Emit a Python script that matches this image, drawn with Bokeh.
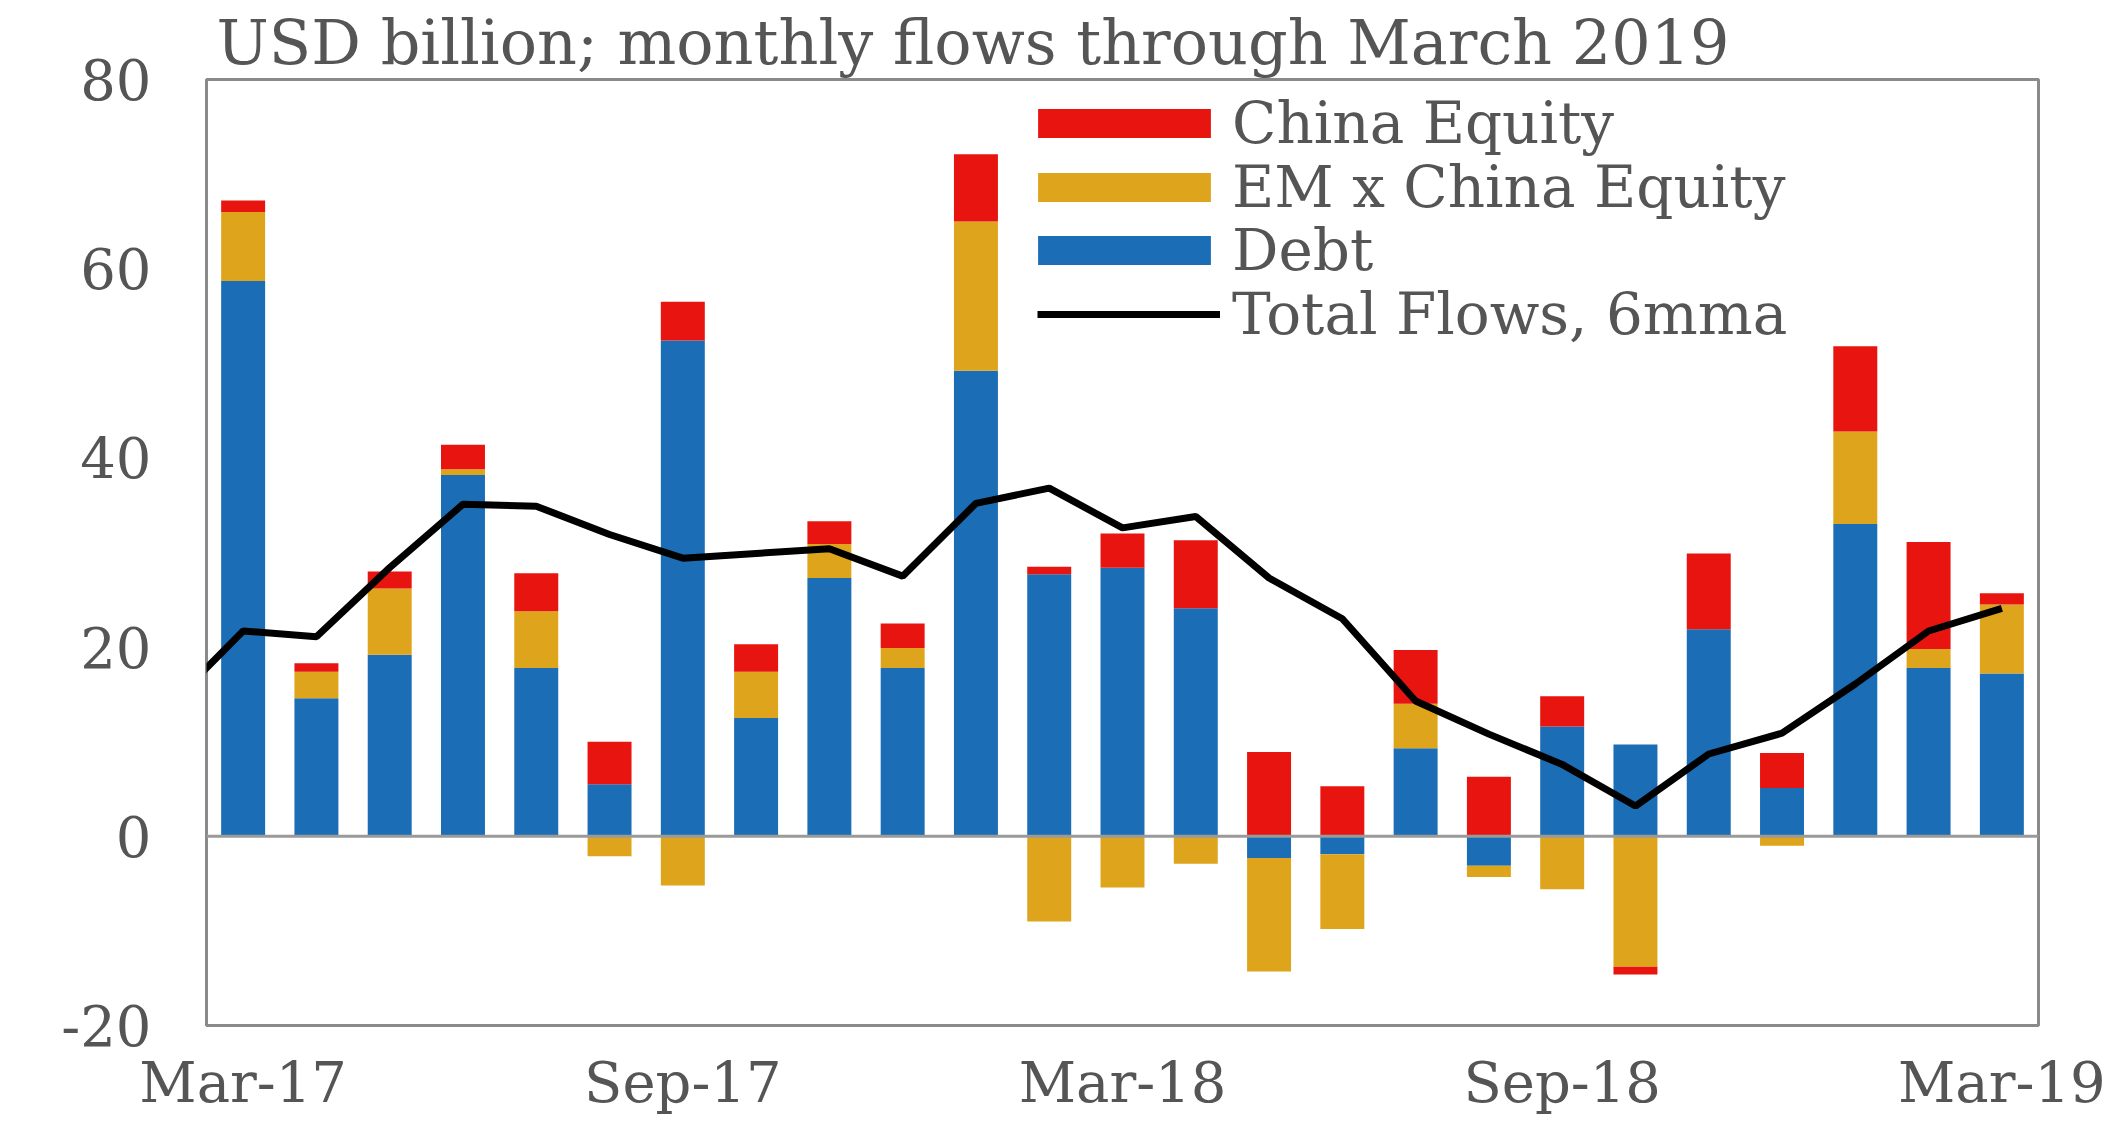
from bokeh.plotting import figure
from bokeh.models import Range1d, FixedTicker, Span, Legend, LegendItem, ColumnDataSource
from bokeh.embed import file_html
from bokeh.resources import INLINE

# ---- data (USD billion) ----
months = ["Mar-17", "Apr-17", "May-17", "Jun-17", "Jul-17", "Aug-17", "Sep-17", "Oct-17",
          "Nov-17", "Dec-17", "Jan-18", "Feb-18", "Mar-18", "Apr-18", "May-18", "Jun-18",
          "Jul-18", "Aug-18", "Sep-18", "Oct-18", "Nov-18", "Dec-18", "Jan-19", "Feb-19", "Mar-19"]
debt = [58.7, 14.6, 19.2, 38.2, 17.8, 5.5, 52.4, 12.5, 27.3, 17.8, 49.2, 27.7, 28.4, 24.1,
        -2.3, -1.9, 9.3, -3.1, 11.6, 9.7, 21.9, 5.1, 33.0, 17.8, 17.2]
em_x_china = [7.3, 2.8, 7.0, 0.6, 6.0, -2.1, -5.2, 4.9, 3.6, 2.1, 15.8, -9.0, -5.4, -2.9,
              -12.0, -7.9, 4.7, -1.2, -5.6, -13.8, 0.0, -1.0, 9.8, 2.0, 7.3]
china_equity = [1.2, 0.9, 1.8, 2.6, 4.0, 4.5, 4.1, 2.9, 2.4, 2.6, 7.1, 0.8, 3.6, 7.2,
                8.9, 5.3, 5.7, 6.3, 3.2, -0.8, 8.0, 3.7, 9.0, 11.3, 1.2]
# 6-month moving average of total flows; first value is Feb-17 (left of the frame)
ma_months = ["Feb-17"] + months
total_6mma = [13.9, 21.7, 21.1, 28.4, 35.1, 34.9, 31.9, 29.4, 29.9, 30.4, 27.5, 35.2, 36.8,
              32.6, 33.8, 27.3, 23.0, 14.3, 10.8, 7.6, 3.2, 8.7, 10.9, 16.1, 21.7, 24.1]
tick_labels = ["Mar-17", "Sep-17", "Mar-18", "Sep-18", "Mar-19"]
y_ticks = [-20, 0, 20, 40, 60, 80]
title_text = "USD billion; monthly flows through March 2019"

# ---- styles ----
FONT = "DejaVu Serif"
TXT = "#555555"
C_CHINA = "#E8140F"
C_EM = "#DEA41C"
C_DEBT = "#1B6DB5"

x = list(range(len(months)))
x_ma = [i - 1 for i in range(len(ma_months))]

# Excel-style stacking: positives stack upward, negatives stack downward
series = [("Debt", debt, C_DEBT), ("EM x China Equity", em_x_china, C_EM), ("China Equity", china_equity, C_CHINA)]
pos = [0.0] * len(months)
neg = [0.0] * len(months)
stack = {}
for name, vals, col in series:
    bot, top = [], []
    for i, v in enumerate(vals):
        if v >= 0:
            bot.append(pos[i]); top.append(pos[i] + v); pos[i] += v
        else:
            top.append(neg[i]); bot.append(neg[i] + v); neg[i] += v
    stack[name] = (bot, top, col)

p = figure(width=2123, height=1125, x_range=Range1d(-0.5, len(months) - 0.5), y_range=Range1d(-20, 80),
           output_backend="svg", toolbar_location=None,
           min_border_left=206, min_border_right=85, min_border_top=79, min_border_bottom=100)

p.title.text = title_text
p.title.align = "left"
p.title.offset = 10
p.title.text_font = FONT
p.title.text_font_size = "62px"
p.title.text_font_style = "normal"
p.title.text_color = TXT
p.title.standoff = 2

renderers = {}
for name, vals, col in series:
    bot, top, col = stack[name]
    src = ColumnDataSource(dict(x=x, bottom=bot, top=top))
    renderers[name] = p.vbar(x="x", bottom="bottom", top="top", width=0.6, source=src,
                             fill_color=col, line_color=None)

zero = Span(location=0, dimension="width", line_color="#9a9a9a", line_width=3)
p.add_layout(zero)

line_r = p.line(x_ma, total_6mma, line_color="black", line_width=7)
renderers["Total Flows, 6mma"] = line_r

# one single-item legend per row, so that rows sit at the reference spacing
legend_rows = [("China Equity", 868), ("EM x China Equity", 804), ("Debt", 741), ("Total Flows, 6mma", 677)]
for label, ypos in legend_rows:
    is_line = label == "Total Flows, 6mma"
    lg = Legend(items=[LegendItem(label=label, renderers=[renderers[label]])],
                location=(831 if is_line else 810, ypos))
    lg.label_text_font = FONT
    lg.label_text_font_size = "58px"
    lg.label_text_color = TXT
    lg.spacing = 0
    lg.padding = 0
    lg.margin = 0
    lg.border_line_alpha = 0
    lg.background_fill_alpha = 0
    if is_line:
        lg.glyph_width = 183
        lg.glyph_height = 30
        lg.label_standoff = 12
    else:
        lg.glyph_width = 216
        lg.glyph_height = 36
        lg.label_standoff = 0
    p.add_layout(lg)

# axes
p.xaxis.ticker = FixedTicker(ticks=[months.index(t) for t in tick_labels])
p.xaxis.major_label_overrides = {months.index(t): t for t in tick_labels}
p.yaxis.ticker = FixedTicker(ticks=y_ticks)
p.yaxis.major_label_overrides = {t: str(t) for t in y_ticks}
for ax in (p.xaxis[0], p.yaxis[0]):
    ax.major_tick_line_color = None
    ax.minor_tick_line_color = None
    ax.major_tick_out = 0
    ax.axis_line_color = None
    ax.major_label_text_font = FONT
    ax.major_label_text_color = TXT
p.xaxis.major_label_text_font_size = "56px"
p.yaxis.major_label_text_font_size = "56px"
p.yaxis.major_label_standoff = 55
p.xaxis.major_label_standoff = 24

p.xgrid.grid_line_color = None
p.ygrid.grid_line_color = None
p.outline_line_color = "#8a8a8a"
p.outline_line_width = 3
p.background_fill_color = "white"
p.border_fill_color = "white"

open("out.html", "w").write(file_html(p, INLINE))
